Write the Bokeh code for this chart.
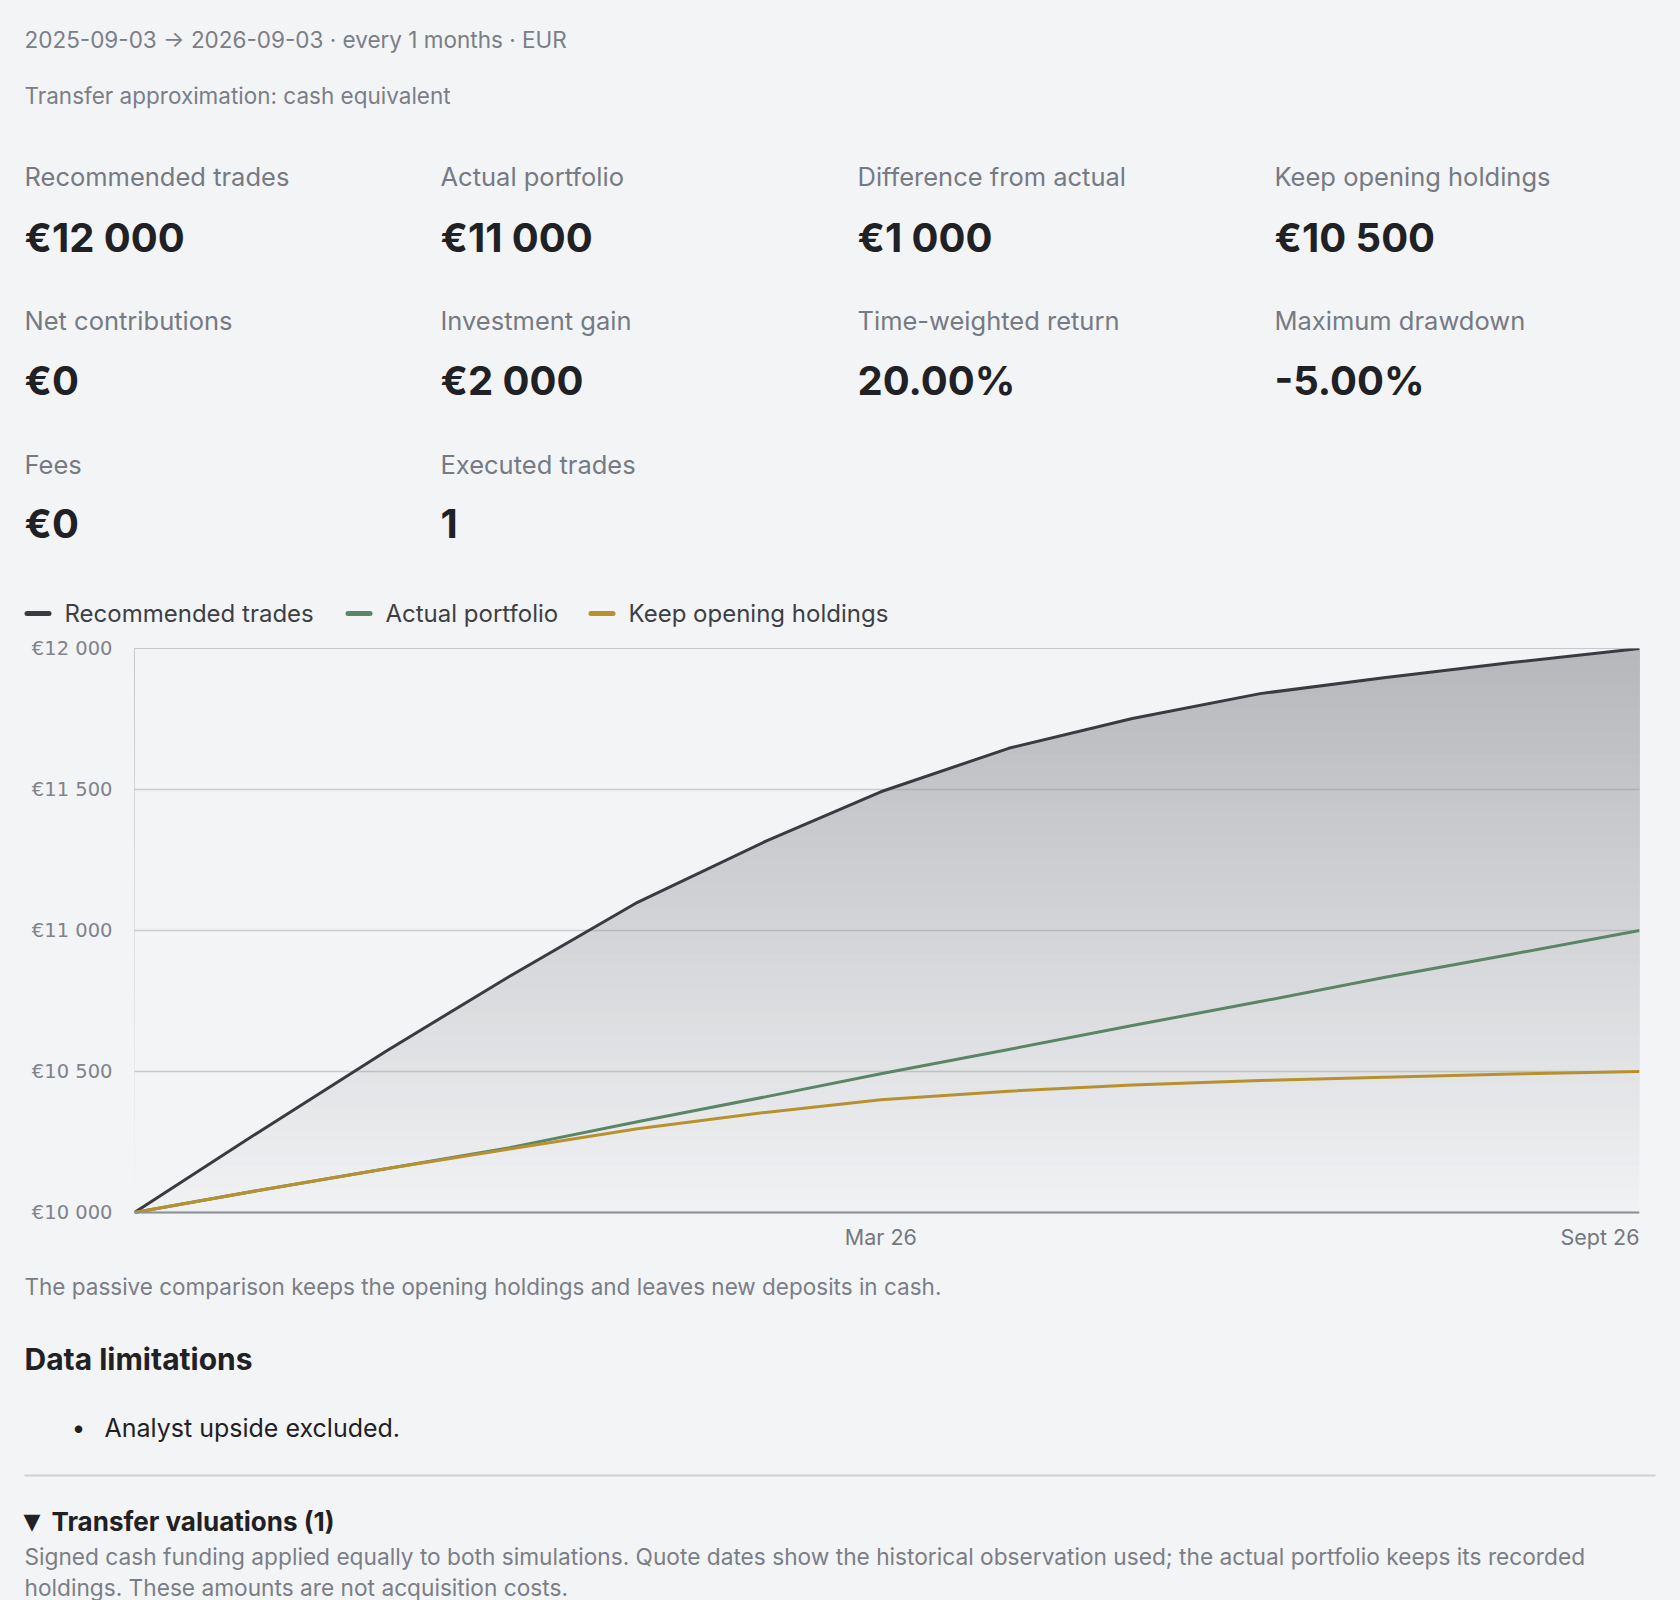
import pandas as pd
from bokeh.plotting import figure
from bokeh.models import Range1d, FixedTicker, Span, ColumnDataSource
from bokeh.core.properties import value
from bokeh.embed import file_html
from bokeh.resources import INLINE

# ---------------- data ----------------
dates = ["2025-09-03", "2025-10-03", "2025-11-03", "2025-12-03", "2026-01-03",
         "2026-02-03", "2026-03-03", "2026-04-03", "2026-05-03", "2026-06-03",
         "2026-07-03", "2026-08-03", "2026-09-03"]
recommended = [10000, 10284, 10572, 10838, 11100, 11316, 11492, 11646, 11752,
               11840, 11896, 11950, 12000]
actual = [10000, 10078, 10155, 10230, 10322, 10410, 10492, 10578, 10663,
          10748, 10833, 10916, 11000]
keep_opening = [10000, 10078, 10155, 10225, 10297, 10355, 10400, 10430, 10452,
                10468, 10480, 10491, 10500]
series_names = ["Recommended trades", "Actual portfolio", "Keep opening holdings"]

y_ticks = [10000, 10500, 11000, 11500, 12000]
y_tick_labels = ["€10 000", "€10 500", "€11 000", "€11 500", "€12 000"]
x_tick_dates = ["2026-03-03", "2026-09-03"]
x_tick_labels = ["Mar 26", "Sept 26"]

meta_lines = ["2025-09-03 → 2026-09-03 · every 1 months · EUR",
              "Transfer approximation: cash equivalent"]
kpi_labels = ["Recommended trades", "Actual portfolio", "Difference from actual",
              "Keep opening holdings", "Net contributions", "Investment gain",
              "Time-weighted return", "Maximum drawdown", "Fees", "Executed trades"]
kpi_values = ["€12 000", "€11 000", "€1 000", "€10 500", "€0", "€2 000",
              "20.00%", "-5.00%", "€0", "1"]

caption = "The passive comparison keeps the opening holdings and leaves new deposits in cash."
limits_title = "Data limitations"
limits_items = ["Analyst upside excluded."]
transfer_marker = "▼"
transfer_title = "Transfer valuations (1)"
transfer_lines = ["Signed cash funding applied equally to both simulations. Quote dates show the historical observation used; the actual portfolio keeps its recorded",
                  "holdings. These amounts are not acquisition costs."]

# ---------------- style ----------------
BG = "#f3f4f6"
FONT = "Inter"
GRAY = "#767a83"
DARK = "#1f2125"
C_REC = "#3a3b40"
C_ACT = "#5a8567"
C_KEEP = "#b8912f"
colors = [C_REC, C_ACT, C_KEEP]
W = 1680


def text_panel(height):
    p = figure(width=W, height=height, x_range=Range1d(0, W), y_range=Range1d(height, 0),
               x_axis_type=None, y_axis_type=None, toolbar_location=None,
               output_backend="svg", min_border=0)
    p.background_fill_color = BG
    p.border_fill_color = BG
    p.outline_line_color = None
    p.grid.visible = False
    return p


def put(p, xs, ys, texts, size, color, bold=False, align="left", font=FONT):
    p.text(x=xs, y=ys, text=texts, text_font=value(font), text_font_size=size,
           text_color=color, text_baseline="middle", text_align=align,
           text_font_style="bold" if bold else "normal")


# ---------------- header (incl. legend) ----------------
HA = 630
head = text_panel(HA)
put(head, [24, 24], [38.5, 95], meta_lines, "22.5px", "#7a7e87")
cols = [24, 440, 857, 1274]
rows_label = [176, 320, 464]
rows_value = [237, 380, 523]
lx, ly, vy = [], [], []
for i in range(len(kpi_labels)):
    lx.append(cols[i % 4])
    ly.append(rows_label[i // 4])
    vy.append(rows_value[i // 4])
put(head, lx, ly, kpi_labels, "25.5px", GRAY)
put(head, lx, vy, kpi_values, "40px", DARK, bold=True)

leg_x = [24, 345, 588]
leg_y = 613
head.segment(x0=[x + 2.5 for x in leg_x], y0=[leg_y] * 3,
             x1=[x + 24.5 for x in leg_x], y1=[leg_y] * 3,
             line_color=colors, line_width=5, line_cap="round")
put(head, [x + 40 for x in leg_x], [leg_y] * 3, series_names, "24px", "#3d3f45")

# ---------------- chart ----------------
HB = 632
TOP = 18            # frame top inside this figure
PX_FRAME = 564      # pixels between the lowest and highest y tick
PX_BELOW = 50       # frame room below the lowest tick for the date labels
lo, hi = y_ticks[0], y_ticks[-1]
per_px = (hi - lo) / PX_FRAME

xd = pd.to_datetime(dates)
p = figure(width=W, height=HB, x_axis_type="datetime",
           x_range=Range1d(xd[0], xd[-1]),
           y_range=Range1d(lo - PX_BELOW * per_px, hi),
           x_axis_location=None,
           toolbar_location=None, output_backend="svg",
           min_border_left=134, min_border_right=41, min_border_top=TOP,
           min_border_bottom=0)
p.background_fill_color = BG
p.border_fill_color = BG
p.outline_line_color = None
p.xgrid.visible = False
p.ygrid.ticker = FixedTicker(ticks=y_ticks)
p.ygrid.grid_line_color = "#8f9196"
p.ygrid.grid_line_alpha = 0.42
p.ygrid.grid_line_width = 1.5

# vertical gradient under the recommended curve: stacked bands + mask above the curve
nb = 48
c0 = (0xf1, 0xf2, 0xf4)
c1 = (0xb6, 0xb7, 0xbb)
band_src = ColumnDataSource(dict(
    left=[xd[0]] * nb, right=[xd[-1]] * nb,
    bottom=[lo + (hi - lo) * k / nb for k in range(nb)], top=[hi] * nb,
    color=["#%02x%02x%02x" % tuple(int(round(a + (b - a) * (k + 0.5) / nb)) for a, b in zip(c0, c1))
           for k in range(nb)]))
p.quad(left="left", right="right", bottom="bottom", top="top", color="color",
       line_color=None, source=band_src, level="image")
p.varea(x=xd, y1=recommended, y2=[hi] * len(recommended), fill_color=BG, level="image")

p.add_layout(Span(location=lo, dimension="width", line_color="#8e9097", line_width=2))

for ys, c in zip([recommended, actual, keep_opening], colors):
    p.line(xd, ys, line_color=c, line_width=3, line_join="round")

p.yaxis.ticker = FixedTicker(ticks=y_ticks)
p.yaxis.major_label_overrides = dict(zip(y_ticks, y_tick_labels))
p.yaxis.axis_line_color = None
p.yaxis.major_tick_line_color = None
p.yaxis.minor_tick_line_color = None
p.yaxis.major_label_standoff = 16
p.yaxis.major_label_text_font = "DejaVu Sans"
p.yaxis.major_label_text_font_size = "19.5px"
p.yaxis.major_label_text_color = "#80838b"

xt = pd.to_datetime(x_tick_dates)
y_lab = lo - 24 * per_px
for d, t, al in zip(xt, x_tick_labels, ["center", "right"]):
    p.text(x=[d], y=[y_lab], text=[t], text_align=al, text_baseline="middle",
           text_font=value(FONT), text_font_size="21.5px", text_color="#74787f")

# ---------------- footer ----------------
HC = 1600 - HA - HB
foot = text_panel(HC)
put(foot, [24], [24], [caption], "22.5px", "#7a7e87")
put(foot, [24], [96], [limits_title], "30px", DARK, bold=True)
put(foot, [78], [165], ["•"], "24px", DARK, align="center")
put(foot, [104], [165], limits_items, "25px", DARK)
foot.segment(x0=[24], y0=[213], x1=[1655], y1=[213], line_color="#cfd0d3", line_width=2)
put(foot, [23], [259], [transfer_marker], "22px", DARK, font="DejaVu Sans")
put(foot, [51], [259], [transfer_title], "26px", DARK, bold=True)
put(foot, [24, 24], [294, 325], transfer_lines, "22.7px", "#7a7e87")

html = file_html([head, p, foot], INLINE)
html = html.replace("</head>", "<style>html,body{background:#f3f4f6;}</style></head>", 1)
open("out.html", "w").write(html)
